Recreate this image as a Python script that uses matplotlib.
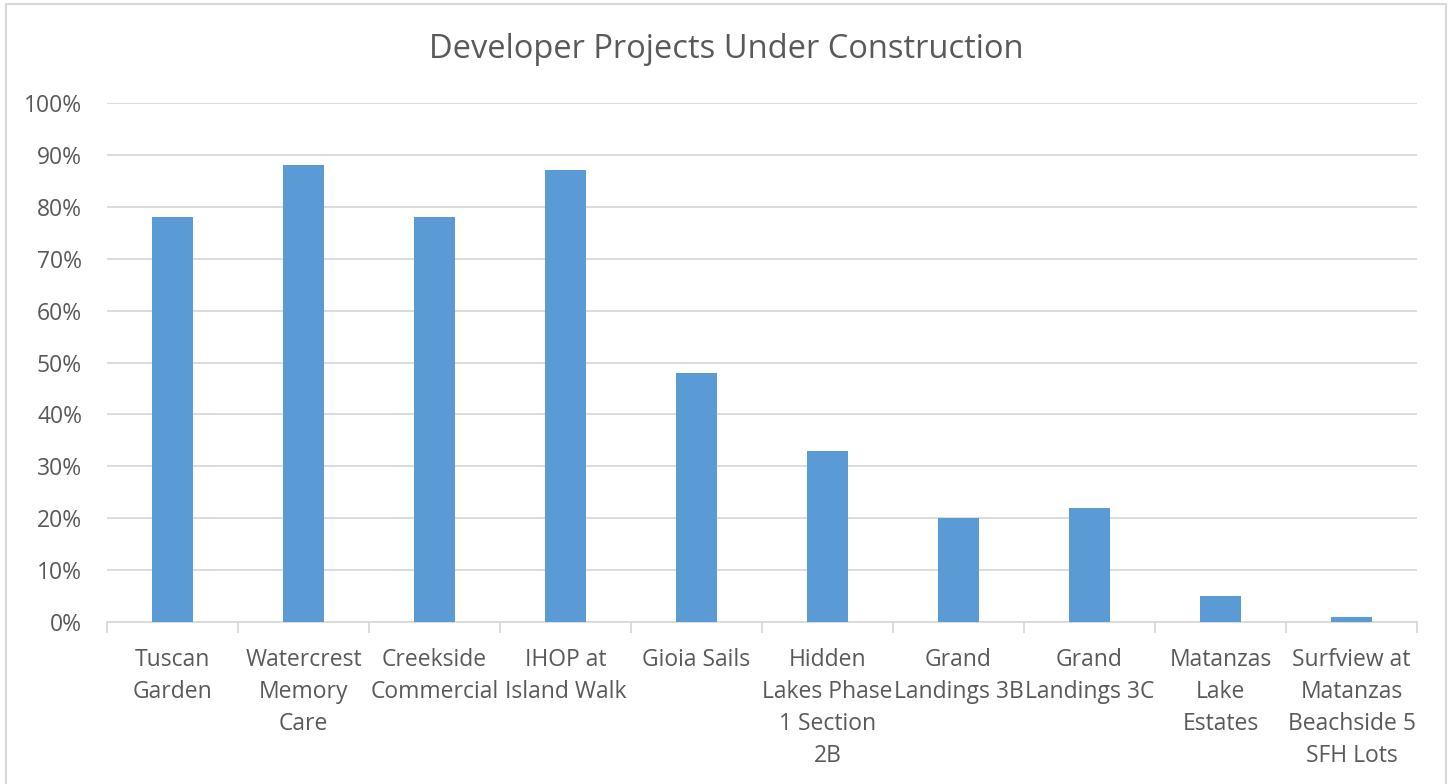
import matplotlib.pyplot as plt
from matplotlib.patches import Rectangle
from matplotlib.ticker import PercentFormatter

# Project names and completion (%)
projects = ['Tuscan\nGarden', 'Watercrest\nMemory\nCare', 'Creekside\nCommercial',
            'IHOP at\nIsland Walk', 'Gioia Sails', 'Hidden\nLakes Phase\n1 Section\n2B',
            'Grand\nLandings 3B', 'Grand\nLandings 3C', 'Matanzas\nLake\nEstates',
            'Surfview at\nMatanzas\nBeachside 5\nSFH Lots']
completion = [78, 88, 78, 87, 48, 33, 20, 22, 5, 1]

plt.rcParams['font.family'] = ['Open Sans', 'DejaVu Sans']
text_color = '#595959'
grid_color = '#D9D9D9'

fig = plt.figure(figsize=(14.52, 7.84), dpi=100)
ax = fig.add_axes([107/1452, 1 - 622/784, 1310/1452, 519/784])

x = range(len(projects))
ax.bar(x, completion, width=0.31, color='#5B9BD5', zorder=3)

ax.set_ylim(0, 100)
ax.set_xlim(-0.5, len(projects) - 0.5)
ax.set_yticks(range(0, 101, 10))
ax.yaxis.set_major_formatter(PercentFormatter(decimals=0))
ax.grid(axis='y', color=grid_color, linewidth=1.3, zorder=0)

# category labels centred, ticks at the category boundaries
ax.set_xticks(list(x))
ax.set_xticklabels(projects, linespacing=1.45)
ax.set_xticks([i - 0.5 for i in range(len(projects) + 1)], minor=True)
ax.tick_params(axis='x', which='major', length=0, pad=18.5, labelsize=16.5, labelcolor=text_color)
ax.tick_params(axis='x', which='minor', length=8, width=1.3, color=grid_color)
ax.tick_params(axis='y', length=0, pad=18, labelsize=16.5, labelcolor=text_color)

for side in ['top', 'right', 'left']:
    ax.spines[side].set_visible(False)
ax.spines['bottom'].set_color(grid_color)
ax.spines['bottom'].set_linewidth(1.3)

fig.text(0.5, 1 - 50/784, 'Developer Projects Under Construction', fontsize=23.5,
         color=text_color, ha='center', va='center')

# chart border
fig.patches.append(Rectangle((6/1452, -0.01), 1440/1452, 1.01 - 4/784, transform=fig.transFigure,
                             fill=False, edgecolor=grid_color, linewidth=1.5))

fig.savefig('out.png', dpi=100)
